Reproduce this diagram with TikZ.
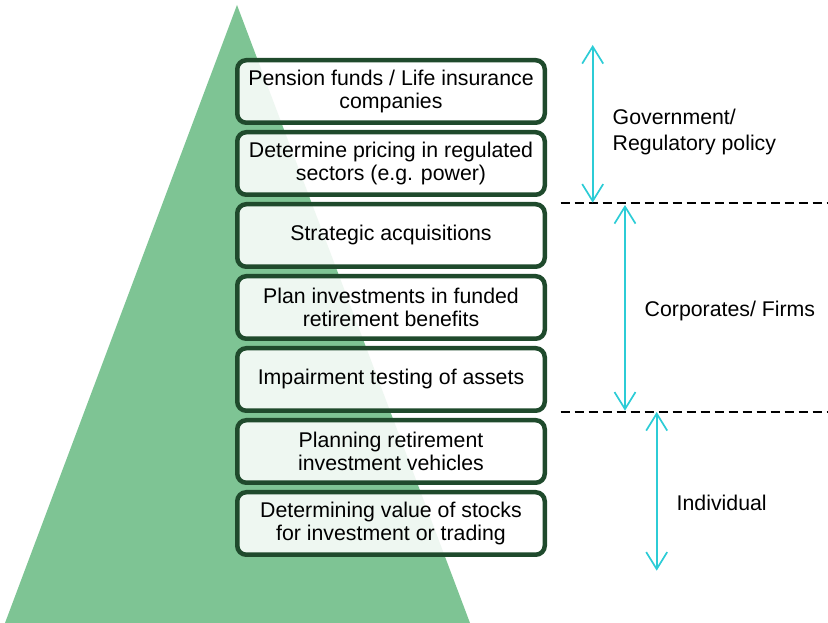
\documentclass[tikz,border=0pt]{standalone}
\usepackage{fontspec}
\setmainfont{Liberation Sans}
\usetikzlibrary{arrows.meta,positioning}
\definecolor{pyramidgreen}{RGB}{126,196,148}
\definecolor{boxgreen}{RGB}{31,74,44}
\definecolor{spancyan}{RGB}{44,204,214}
\tikzset{
  pyramid/.style={fill=pyramidgreen, draw=none},
  task/.style={draw=boxgreen, line width=4.5pt, fill=white, fill opacity=0.87,
               text opacity=1, rounded corners=9pt,
               minimum width=307.5pt, minimum height=62.5pt, inner sep=2pt,
               align=center, font=\fontsize{21.3}{23.5}\selectfont},
  level/.style={anchor=west, align=left, inner sep=0pt,
                font=\fontsize{21.3}{26}\selectfont},
  span/.style={{Straight Barb[length=17pt,width=21pt]}-{Straight Barb[length=17pt,width=21pt]},
               draw=spancyan, line width=1.7pt},
  divider/.style={black, line width=1.8pt, dash pattern=on 9pt off 5pt},
}

\begin{document}
\begin{tikzpicture}[x=1pt,y=1pt]
  \path[use as bounding box] (0,0) rectangle (828,623);

  % Pyramid behind the boxes.
  \fill[pyramid] (237,618) -- (470,0) -- (5,0) -- cycle;

  % Stack of applications.
  \node[task] (pension) at (391,531.5) {Pension funds / Life insurance\\companies};
  \node[task, below=5pt of pension] (pricing) {Determine pricing in regulated\\sectors (e.g. power)};
  \node[task, below=5pt of pricing] (acquire) {Strategic acquisitions};
  \node[task, below=5pt of acquire] (benefits) {Plan investments in funded\\retirement benefits};
  \node[task, below=5pt of benefits] (impair) {Impairment testing of assets};
  \node[task, below=5pt of impair] (vehicles) {Planning retirement\\investment vehicles};
  \node[task, below=5pt of vehicles] (stocks) {Determining value of stocks\\for investment or trading};

  % Boundaries between user groups.
  \coordinate (cut1a) at (560.5,420);
  \coordinate (cut1b) at (828,420);
  \coordinate (cut2a) at (560.5,211.3);
  \coordinate (cut2b) at (828,211.3);
  \draw[divider] (cut1a) -- (cut1b);
  \draw[divider] (cut2a) -- (cut2b);

  % Ranges covered by each group.
  \coordinate (govtop) at (592.7,578);
  \coordinate (govbot) at (592.7,420.3);
  \coordinate (corptop) at (625,418);
  \coordinate (corpbot) at (625,212.3);
  \coordinate (indtop) at (656.7,211);
  \coordinate (indbot) at (656.7,52.3);
  \draw[span] (govtop) -- (govbot);
  \draw[span] (corptop) -- (corpbot);
  \draw[span] (indtop) -- (indbot);

  \node[level] (gov) at (612.5,491) {Government/\\Regulatory policy};
  \node[level] (corp) at (644.5,312) {Corporates/ Firms};
  \node[level] (indiv) at (676.5,120.5) {Individual};
\end{tikzpicture}
\end{document}
